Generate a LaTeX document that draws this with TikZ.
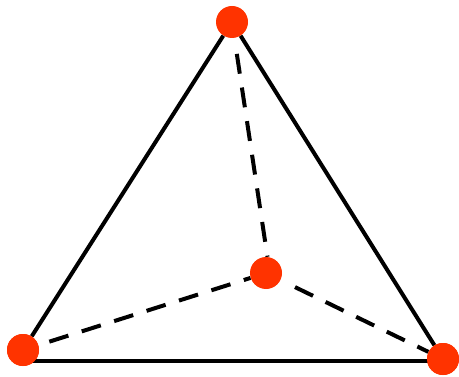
\documentclass[tikz,border=0pt]{standalone}
\definecolor{vertexred}{RGB}{255,51,0}
\tikzset{
  vertexdot/.style={circle, fill=vertexred, draw=none, minimum size=24pt, inner sep=0pt},
  edgeline/.style={line width=3pt},
  hiddenline/.style={line width=3pt, dash pattern=on 15pt off 10.5pt}
}
\begin{document}
\begin{tikzpicture}[x=0.75pt,y=-0.75pt]
    \useasboundingbox (0,0) rectangle (459,377);
    \node [vertexdot] (apex) at (232,22) {};
    \node [vertexdot] (left) at (23,350) {};
    \node [vertexdot] (right) at (443,359) {};
    \node [vertexdot] (back) at (266,273) {};
    \coordinate (bottomleft) at (left |- 0,361);
    \coordinate (bottomright) at (right |- 0,361);

    \draw [edgeline] (apex) -- (left);
    \draw [edgeline] (apex) -- (right);
    \draw [edgeline] (bottomleft) -- (bottomright);
    \draw [hiddenline, dash phase=17pt] (left) -- (back);
    \draw [hiddenline, dash phase=15pt, shorten <=1.5pt] (back) -- (right);
    \draw [hiddenline, dash phase=15pt, shorten <=1.5pt] (apex) -- (back.85);

    % dots stay above the bottom line
    \node [vertexdot] at (left) {};
    \node [vertexdot] at (right) {};
\end{tikzpicture}
\end{document}
